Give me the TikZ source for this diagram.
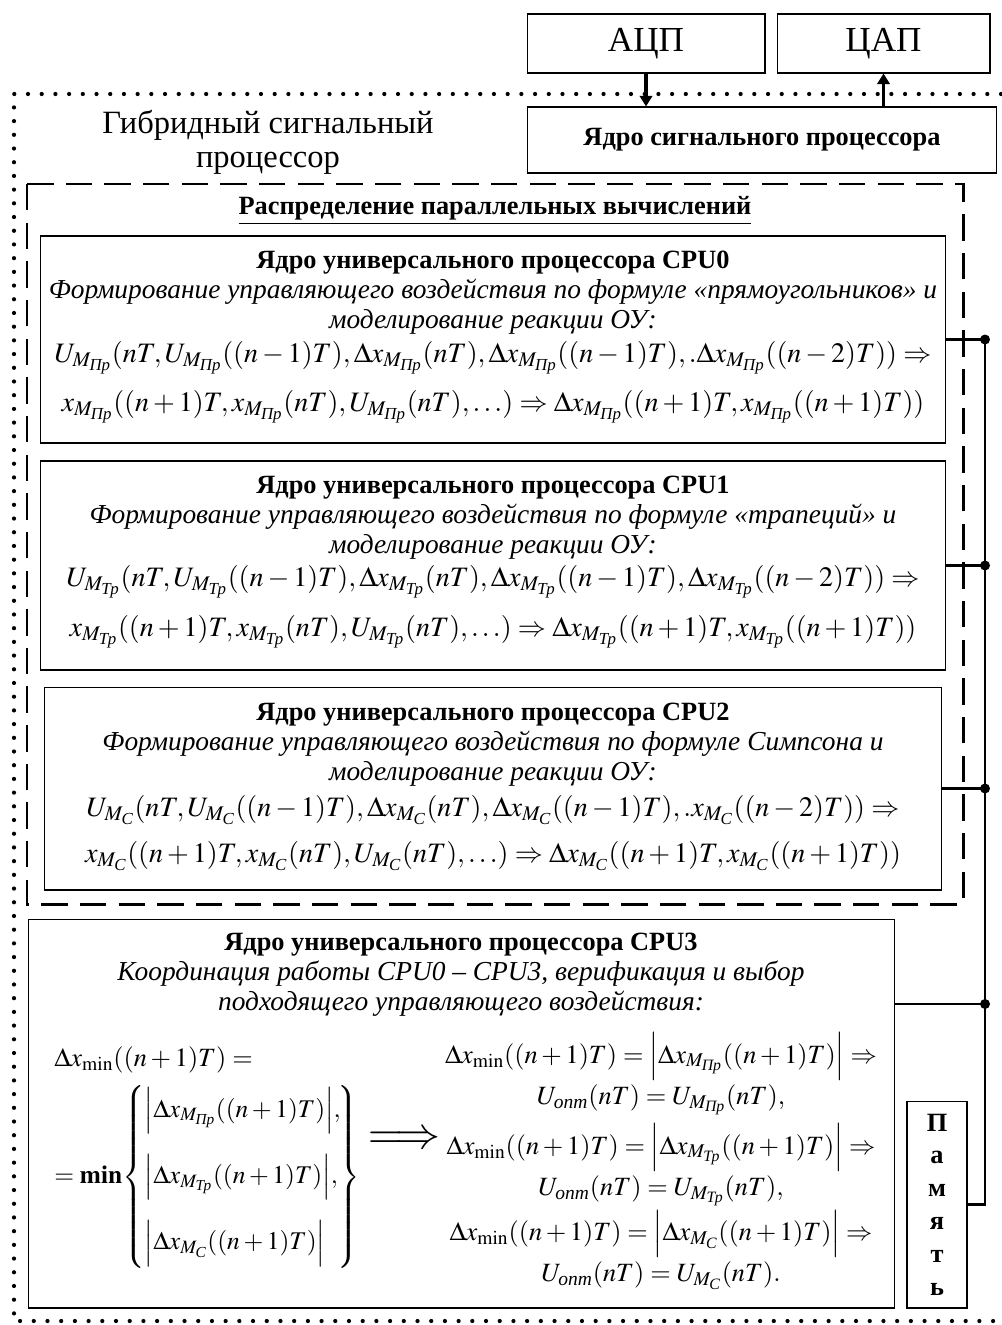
\documentclass[tikz,border=0pt]{standalone}
\usepackage{amsmath}
\usepackage{graphicx}
\usepackage{mathptmx}
\usepackage{fontspec}
\setmainfont{Liberation Serif}
\usetikzlibrary{arrows.meta}

\newcommand{\Mpr}{M_{\text{\itshape Пр}}}
\newcommand{\Mtr}{M_{\text{\itshape Тр}}}
\newcommand{\Mc}{M_{\text{\itshape С}}}
\newcommand{\opt}{\text{\itshape опт}}

\begin{document}
\begin{tikzpicture}[
  x=0.02cm, y=-0.02cm,
  box/.style={draw, line width=0.6pt, inner sep=0pt},
  big/.style={font=\fontsize{20}{20}\selectfont},
  txt/.style={align=center, font=\fontsize{15}{17}\selectfont},
  fml/.style={font=\fontsize{16}{17}\selectfont, inner sep=0pt},
  sel/.style={align=center, font=\fontsize{15}{23.5}\selectfont},
  dotframe/.style={line width=2.4pt, line cap=round, dash pattern=on 0pt off 7.8pt},
  dashframe/.style={line width=1.7pt, dash pattern=on 15pt off 7pt},
  arr/.style={-{Triangle[length=6pt,width=7pt]}, line width=1.8pt},
  link/.style={line width=1.5pt},
]
  \useasboundingbox (0,0) rectangle (1001,1325);

  % outer frames
  \draw[dotframe] (1001,94) -- (14,94) -- (14,1321) -- (1001,1321);
  \draw[dashframe] (27,184) rectangle (963,904);

  % signal processor part
  \node[box, big, minimum width=4.76cm, minimum height=1.18cm] (adc) at (646,43.5) {АЦП};
  \node[box, big, minimum width=4.26cm, minimum height=1.18cm] (dac) at (883.5,43.5) {ЦАП};
  \node[box, txt, font=\fontsize{15}{17}\selectfont\bfseries, minimum width=9.4cm, minimum height=1.32cm] (dsp) at (762,140) {Ядро сигнального процессора};
  \node[align=center, font=\fontsize{18.5}{19.5}\selectfont] (hsp) at (268,142) {Гибридный сигнальный\\процессор};

  \draw[arr] (adc.south) -- (adc.south |- dsp.north);
  \draw[arr] (dac.south |- dsp.north) -- (dac.south);

  \node[txt, font=\fontsize{15}{17}\selectfont\bfseries] (par) at (495,211) {\underline{Распределение параллельных вычислений}};

  % CPU0
  \node[box, minimum width=18.12cm, minimum height=4.14cm] (cpu0) at (493,339.5) {};
  \node[txt] (h0) at (493,293) {\textbf{Ядро универсального процессора CPU0}\\
    {\fontsize{15.6}{17}\selectfont\itshape Формирование управляющего воздействия по формуле «прямоугольников» и}\\
    {\fontsize{15.6}{17}\selectfont\itshape моделирование реакции ОУ:}};
  \node[fml] (f0a) at (493,358) {$U_{\Mpr}(nT, U_{\Mpr}((n-1)T), \Delta x_{\Mpr}(nT), \Delta x_{\Mpr}((n-1)T), .\Delta x_{\Mpr}((n-2)T)) \Rightarrow$};
  \node[fml] (f0b) at (493,407) {$x_{\Mpr}((n+1)T, x_{\Mpr}(nT), U_{\Mpr}(nT), \ldots) \Rightarrow \Delta x_{\Mpr}((n+1)T, x_{\Mpr}((n+1)T))$};

  % CPU1
  \node[box, minimum width=18.12cm, minimum height=4.18cm] (cpu1) at (493,565.5) {};
  \node[txt] (h1) at (493,518) {\textbf{Ядро универсального процессора CPU1}\\
    {\fontsize{15.6}{17}\selectfont\itshape Формирование управляющего воздействия по формуле «трапеций» и}\\
    {\fontsize{15.6}{17}\selectfont\itshape моделирование реакции ОУ:}};
  \node[fml] (f1a) at (493,582) {$U_{\Mtr}(nT, U_{\Mtr}((n-1)T), \Delta x_{\Mtr}(nT), \Delta x_{\Mtr}((n-1)T), \Delta x_{\Mtr}((n-2)T)) \Rightarrow$};
  \node[fml] (f1b) at (493,632) {$x_{\Mtr}((n+1)T, x_{\Mtr}(nT), U_{\Mtr}(nT), \ldots) \Rightarrow \Delta x_{\Mtr}((n+1)T, x_{\Mtr}((n+1)T))$};

  % CPU2
  \node[box, minimum width=17.96cm, minimum height=4.06cm] (cpu2) at (493,788.5) {};
  \node[txt] (h2) at (493,745) {\textbf{Ядро универсального процессора CPU2}\\
    {\fontsize{15.6}{17}\selectfont\itshape Формирование управляющего воздействия по формуле Симпсона и}\\
    {\fontsize{15.6}{17}\selectfont\itshape моделирование реакции ОУ:}};
  \node[fml] (f2a) at (493,810) {$U_{\Mc}(nT, U_{\Mc}((n-1)T), \Delta x_{\Mc}(nT), \Delta x_{\Mc}((n-1)T), .x_{\Mc}((n-2)T)) \Rightarrow$};
  \node[fml] (f2b) at (493,856) {$x_{\Mc}((n+1)T, x_{\Mc}(nT), U_{\Mc}(nT), \ldots) \Rightarrow \Delta x_{\Mc}((n+1)T, x_{\Mc}((n+1)T))$};

  % CPU3
  \node[box, minimum width=17.34cm, minimum height=7.78cm] (cpu3) at (461.5,1113.5) {};
  \node[txt] (h3) at (461,975) {\textbf{Ядро универсального процессора CPU3}\\
    {\fontsize{15.6}{17}\selectfont\itshape Координация работы CPU0 – CPU3, верификация и выбор}\\
    {\fontsize{15.6}{17}\selectfont\itshape подходящего управляющего воздействия:}};
  \node[fml, font=\fontsize{15}{17}\selectfont, anchor=west] (dmin) at (54,1060) {$\Delta x_{\min}((n+1)T) =$};
  \node[fml, font=\fontsize{14.5}{17}\selectfont, anchor=west] (mins) at (54,1177) {$= \mathbf{min}\!\left\{\begin{array}{@{}l@{}}
    \Bigl|\Delta x_{\Mpr}((n+1)T)\Bigr|,\\[16pt]
    \Bigl|\Delta x_{\Mtr}((n+1)T)\Bigr|,\\[16pt]
    \Bigl|\Delta x_{\Mc}((n+1)T)\Bigr|
    \end{array}\!\right\}$};
  \node[fml] (impl) at (404,1140) {\scalebox{1.6}{$\Longrightarrow$}};
  \node[sel] (s1) at (661,1074) {$\Delta x_{\min}((n+1)T) = \Bigl|\Delta x_{\Mpr}((n+1)T)\Bigr| \Rightarrow$\\ $U_{\opt}(nT) = U_{\Mpr}(nT),$};
  \node[sel] (s2) at (661,1165) {$\Delta x_{\min}((n+1)T) = \Bigl|\Delta x_{\Mtr}((n+1)T)\Bigr| \Rightarrow$\\ $U_{\opt}(nT) = U_{\Mtr}(nT),$};
  \node[sel] (s3) at (661,1250) {$\Delta x_{\min}((n+1)T) = \Bigl|\Delta x_{\Mc}((n+1)T)\Bigr| \Rightarrow$\\ $U_{\opt}(nT) = U_{\Mc}(nT).$};

  % memory
  \node[box, align=center, font=\fontsize{15}{18.7}\selectfont\bfseries, minimum width=1.2cm, minimum height=4.14cm] (mem) at (937,1204.5) {П\\а\\м\\я\\т\\ь};

  % bus
  \coordinate (bus) at (985,0);
  \coordinate (j3) at (985,1004);
  \foreach \n in {cpu0,cpu1,cpu2} {
    \draw[link] (\n.east) -- (\n.east -| bus);
    \fill (\n.east -| bus) circle (0.1cm);
  }
  \draw[link] (cpu3.east |- j3) -- (j3);
  \fill (j3) circle (0.1cm);
  \draw[link] (cpu0.east -| bus) -- (mem.east -| bus) -- (mem.east);
\end{tikzpicture}
\end{document}
